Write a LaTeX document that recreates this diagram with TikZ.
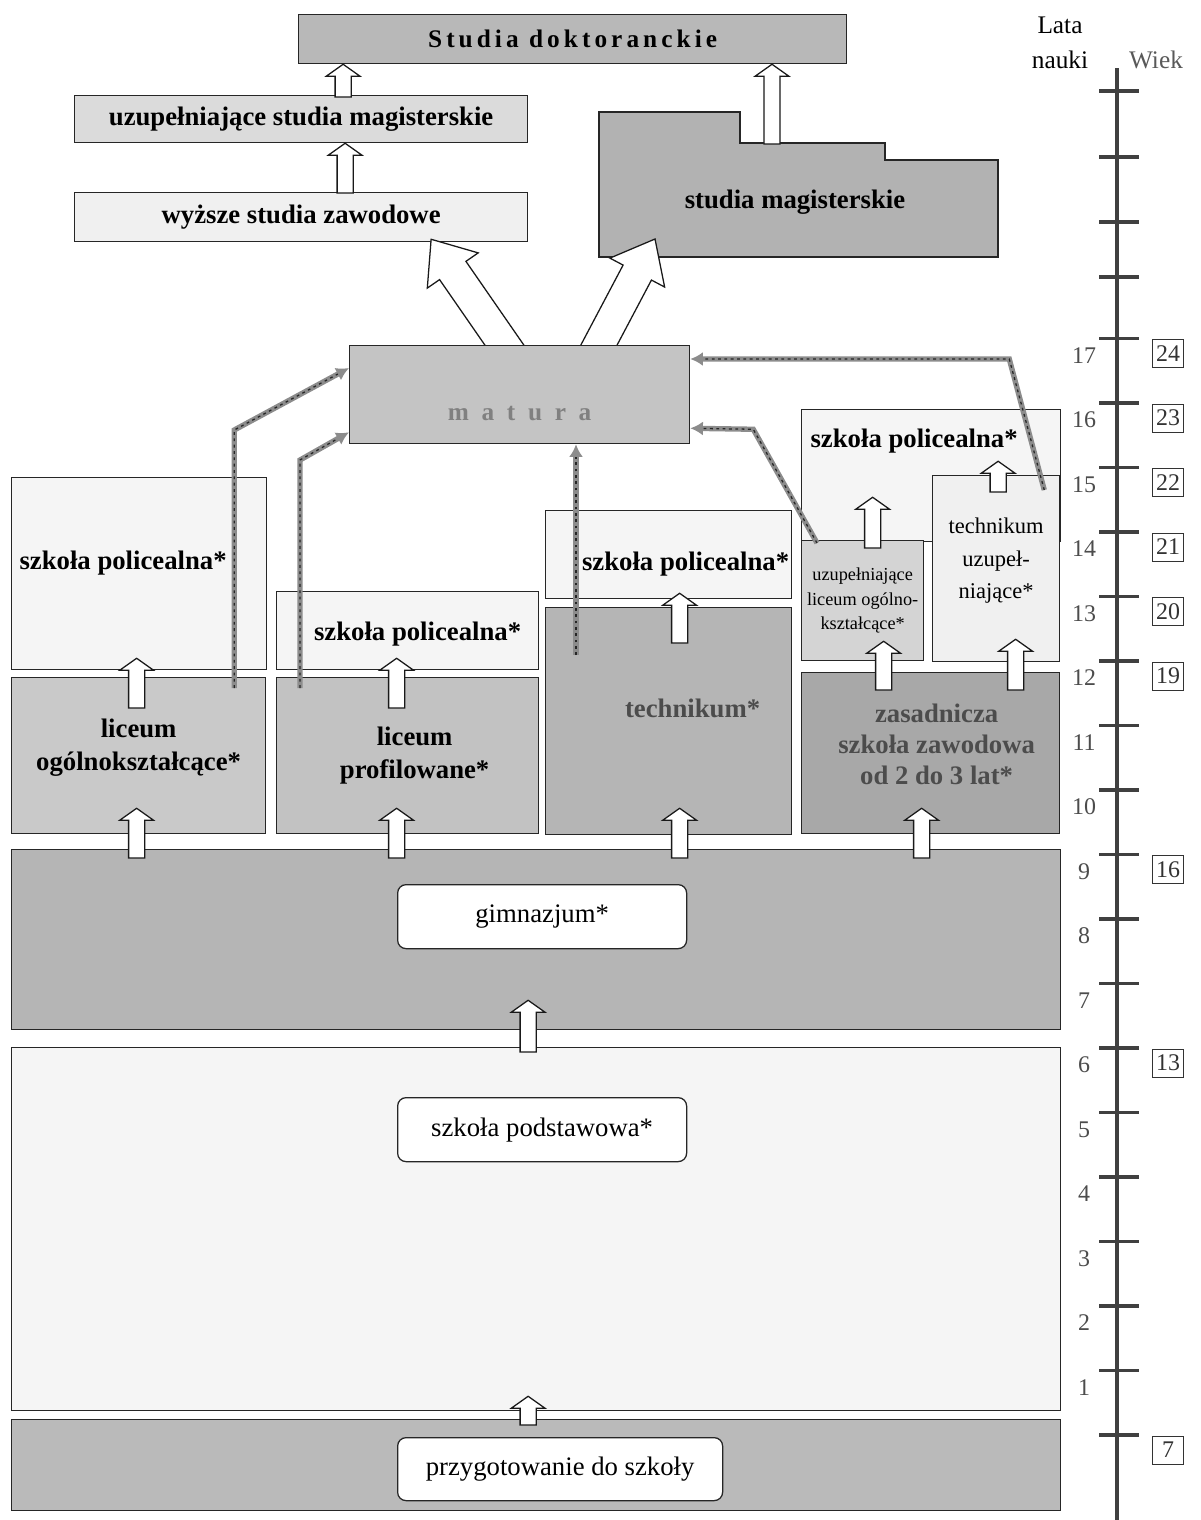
\documentclass[tikz,border=0pt]{standalone}
\usepackage{fontspec}
\setmainfont{Liberation Serif}
\newfontfamily\spaced[LetterSpace=16]{Liberation Serif}
\newfontfamily\wide[LetterSpace=50]{Liberation Serif}
\usetikzlibrary{calc,arrows.meta}

\tikzset{
  box/.style={draw=black!85,line width=.9pt,inner sep=0pt,anchor=north west},
  lbl/.style={font=\fontsize{19}{24}\selectfont\bfseries,align=center,inner sep=0pt},
  txt/.style={font=\fontsize{19}{23}\selectfont,align=center,inner sep=0pt},
  kafel/.style={fill=white,rounded corners=6pt,txt},
  num/.style={font=\fontsize{17}{20}\selectfont,text=black!70},
  wiek/.style={draw=black!80,line width=.6pt,minimum width=22pt,minimum height=20pt,inner sep=0pt,
    font=\fontsize{17}{20}\selectfont,text=black!80},
  blk/.style={draw=black!90,line width=.9pt,fill=white,line join=miter},
  toma/.style={draw=black!45,line width=3.8pt,-{Latex[length=9pt,width=10pt]},
    postaction={draw=black!85,line width=.9pt,dash pattern=on 2pt off 2.5pt,-,shorten >=9pt}},
  os/.style={black!75,line width=2.6pt},
}

% box from (x1,y1) to (x2,y2) in pixels
\newcommand\boks[7]{\node[box,#6,minimum width={(#4-#2)*0.025cm},minimum height={(#5-#3)*0.025cm}] (#1) at (#2,#3) {#7};}

% hollow block arrow: start, tip, shaft half width, head half width, head length
\newcommand\blkarr[5]{%
  \path #1 coordinate (ba-s);
  \path #2 coordinate (ba-t);
  \path ($(ba-t)!#5!(ba-s)$) coordinate (ba-h);
  \draw[blk] ($(ba-s)!#3!90:(ba-t)$) -- ($(ba-h)!#3!90:(ba-t)$) -- ($(ba-h)!#4!90:(ba-t)$) -- (ba-t)
    -- ($(ba-h)!#4!-90:(ba-t)$) -- ($(ba-h)!#3!-90:(ba-t)$) -- ($(ba-s)!#3!-90:(ba-t)$) -- cycle;}
\newcommand\uparr[3][0]{%
  \path #2 coordinate (ua-b);
  \path ($(ua-b |- #3)+(0,-#1)$) coordinate (ua-t);
  \blkarr{(ua-b)}{(ua-t)}{5.7pt}{12pt}{8.5pt}}

\begin{document}
\begin{tikzpicture}[x=0.025cm,y=-0.025cm]
\useasboundingbox (0,0) rectangle (1201,1520);

% pasy dolne
\boks{prz}{11}{1419}{1060}{1510}{fill=black!27}{}
\boks{pod}{11}{1047}{1060}{1410}{fill=black!4}{}
\boks{gim}{11}{849}{1060}{1029}{fill=black!29}{}
\boks{przt}{397}{1437}{722}{1500}{kafel}{przygotowanie do szkoły}
\boks{podt}{397}{1097}{686}{1161}{kafel}{szkoła podstawowa*}
\boks{gimt}{397}{884}{686}{948}{kafel}{gimnazjum*}

% studia
\boks{dok}{298}{14}{846}{63}{fill=black!28,font=\fontsize{18}{22}\selectfont\spaced\bfseries}{Studia doktoranckie}
\boks{usm}{74}{95}{527}{142}{fill=black!14,lbl}{uzupełniające studia magisterskie}
\boks{wsz}{74}{192}{527}{241}{fill=black!6,lbl}{wyższe studia zawodowe}
\draw[draw=black!85,line width=.9pt,fill=black!30] (599,112) -- (740,112) -- (740,143) coordinate (smstep)
  -- (885,143) -- (885,160) -- (998,160) -- (998,257) -- (599,257) coordinate (smbl) -- cycle;
\node[lbl] (smag) at (795,202) {studia magisterskie};

\uparr{($(usm.north)+(42,2)$)}{dok.south}
\uparr{($(wsz.north)+(44,1)$)}{usm.south}
\uparr{($(smstep)+(32,1)$)}{dok.south}

% matura
\boks{ma}{349}{345}{689}{443}{fill=black!23}{}
\blkarr{($(ma.north)+(-7,12)$)}{($(wsz.south)+(130,-3)$)}{11.4pt}{22pt}{27pt}
\blkarr{($(ma.north)+(73,12)$)}{($(smbl)+(56,-18)$)}{11.4pt}{22pt}{27pt}
\boks{ma}{349}{345}{689}{443}{fill=black!23}{}
\node[font=\fontsize{18}{22}\selectfont\wide\bfseries,text=black!50] (mat) at ($(ma)+(0,19)$) {matura};

% szkoly ponadgimnazjalne
\boks{p1}{11}{477}{266}{669}{fill=black!4}{}
\node[lbl] (p1t) at ($(p1)+(-16,-11)$) {szkoła policealna*};
\boks{lo}{11}{677}{265}{833}{fill=black!21}{}
\node[lbl] (lot) at ($(lo)+(0,-8)$) {liceum\\ogólnokształcące*};
\boks{p2}{276}{591}{538}{669}{fill=black!4}{}
\node[lbl] (p2t) at ($(p2)+(10,3)$) {szkoła policealna*};
\boks{lp}{276}{677}{538}{833}{fill=black!24}{}
\node[lbl] (lpt) at ($(lp)+(7,0)$) {liceum\\profilowane*};
\boks{p3}{545}{510}{791}{598}{fill=black!4}{}
\node[lbl] (p3t) at ($(p3)+(17,9)$) {szkoła policealna*};
\boks{tk}{545}{607}{791}{834}{fill=black!29}{}
\node[lbl,text=black!70] (tkt) at ($(tk)+(24,-13)$) {technikum*};
\boks{p4}{801}{409}{1060}{541}{fill=black!4}{}
\node[lbl] (p4t) at ($(p4)+(-17,-35)$) {szkoła policealna*};
\boks{ul}{801}{540}{923}{660}{fill=black!17,align=center,font=\fontsize{13}{17.5}\selectfont}{uzupełniające\\liceum ogólno-\\kształcące*}
\boks{tu}{932}{475}{1059}{661}{fill=black!6}{}
\node[align=center,font=\fontsize{16}{23}\selectfont] (tut) at ($(tu)+(0,-8)$) {technikum\\uzupeł-\\niające*};
\boks{zs}{801}{672}{1059}{833}{fill=black!34}{}
\node[lbl,font=\fontsize{19}{22}\selectfont\bfseries,text=black!70] (zst) at ($(zs)+(6,-9)$) {zasadnicza\\szkoła zawodowa\\od 2 do 3 lat*};

% strzalki blokowe
\uparr[12]{($(lo.north)+(-2,31)$)}{p1.south}
\uparr[12]{($(lp.north)+(-11,31)$)}{p2.south}
\uparr[6]{($(tk.north)+(11,36)$)}{p3.south}
\uparr[20]{($(zs.north)+(-47,18)$)}{ul.south}
\uparr[23]{($(zs.north)+(85,18)$)}{tu.south}
\uparr[45]{($(ul.north)+(10,8)$)}{p4.south}
\uparr[81]{($(tu.north)+(2,17)$)}{p4.south}
\uparr[26]{($(lo.south |- gim.north)+(-2,9)$)}{lo.south}
\uparr[26]{($(lp.south |- gim.north)+(-11,9)$)}{lp.south}
\uparr[27]{($(tk.south |- gim.north)+(11,9)$)}{tk.south}
\uparr[26]{($(zs.south |- gim.north)+(-9,9)$)}{zs.south}
\uparr[30]{($(pod.north)+(-8,5)$)}{gim.south}
\uparr[15]{($(prz.north)+(-8,6)$)}{pod.south}

% drogi do matury
\draw[toma] ($(lo.north east)+(-32,11)$) -- ++(0,-258) -- ($(ma.north west)+(0,23)$);
\draw[toma] ($(lp.north west)+(24,11)$) -- ++(0,-228) -- ($(ma.south west)+(0,-12)$);
\coordinate (c3) at ($(tk.north west)+(31,48)$);
\draw[toma] (c3) -- (c3 |- ma.south);
\draw[toma] ($(tu.north east)+(-16,15)$) -- ($(ma.north east)+(319,14)$) -- ($(ma.north east)+(0,14)$);
\draw[toma] ($(ul.north west)+(16,3)$) -- ($(ma.south east)+(63,-15)$) -- ($(ma.south east)+(0,-16)$);

% os wieku
\node[txt,font=\fontsize{18}{22}\selectfont] (lata) at (1060,25) {Lata};
\node[txt,font=\fontsize{18}{22}\selectfont] (nauki) at (1060,60) {nauki};
\node[txt,font=\fontsize{18}{22}\selectfont,text=black!65] (wiekl) at (1156,60) {Wiek};
\draw[black!75,line width=3.5pt] (1117,68) -- (1117,1520);
\foreach \y in {91,157,222,277} \draw[os] (1099,\y) -- (1139,\y);
\foreach \n in {0,...,17} \draw[os] (1099,{1435-64.5*\n}) -- (1139,{1435-64.5*\n});
\foreach \n in {1,...,17} \node[num] (rok\n) at (1084,{1452-64.5*\n}) {\n};
\foreach \n/\w in {17/24,16/23,15/22,14/21,13/20,12/19,9/16,6/13,0/7}
  \node[wiek] (wiek\w) at (1168,{1450-64.5*\n}) {\w};
\end{tikzpicture}
\end{document}
